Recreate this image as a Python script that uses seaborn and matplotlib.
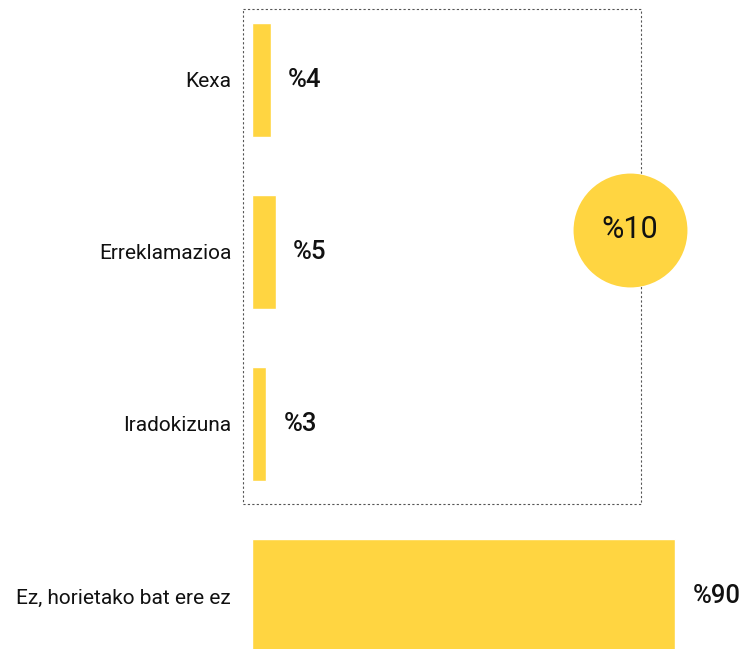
import seaborn as sns
from matplotlib import pyplot as plt
from matplotlib.patches import Rectangle
import pandas as pd

# data
categories = ["Kexa", "Erreklamazioa", "Iradokizuna", "Ez, horietako bat ere ez"]
values = [4, 5, 3, 90]
value_labels = ["%4", "%5", "%3", "%90"]
group_total = 10
group_label = "%10"

df = pd.DataFrame({"kategoria": categories, "ehunekoa": values})

sns.set_theme(style="white")
plt.rcParams["font.family"] = ["Roboto", "DejaVu Sans"]

yellow = "#FFD541"
px = 4.7  # pixels per percent unit

fig = plt.figure(figsize=(7.43, 6.49), dpi=100)
ax = fig.add_axes([252 / 743, 0, 491 / 743, 1])

sns.barplot(data=df, y="kategoria", x="ehunekoa", orient="h",
            color=yellow, saturation=1, width=0.665, ax=ax)

ax.set_xlim(0, 491 / px)
ax.set_ylim((649 - 80) / 172, -80 / 172)
ax.set_xlabel("")
ax.set_ylabel("")
ax.set_xticks([])
ax.tick_params(axis="y", length=0, pad=15, labelsize=15, labelcolor="#111111")
sns.despine(ax=ax, left=True, bottom=True)

ax.bar_label(ax.containers[0], labels=value_labels, padding=12.5,
             fontsize=18.5, fontweight="medium", color="#111111")

# dotted frame round the three small answers
box = Rectangle((-1.9, -0.413), 84.7, 2.878, fill=False, edgecolor="#555555",
                linewidth=0.8, linestyle=(0, (2, 2)), clip_on=False, zorder=1)
ax.add_patch(box)

# circle with the group total
ax.scatter([80.4], [0.872], s=82 ** 2, color=yellow, linewidths=0,
           zorder=3, clip_on=False)
ax.text(80.4, 0.872, group_label, ha="center", va="center",
        fontsize=22, color="#111111", zorder=4)

fig.savefig("out.png", dpi=100)
